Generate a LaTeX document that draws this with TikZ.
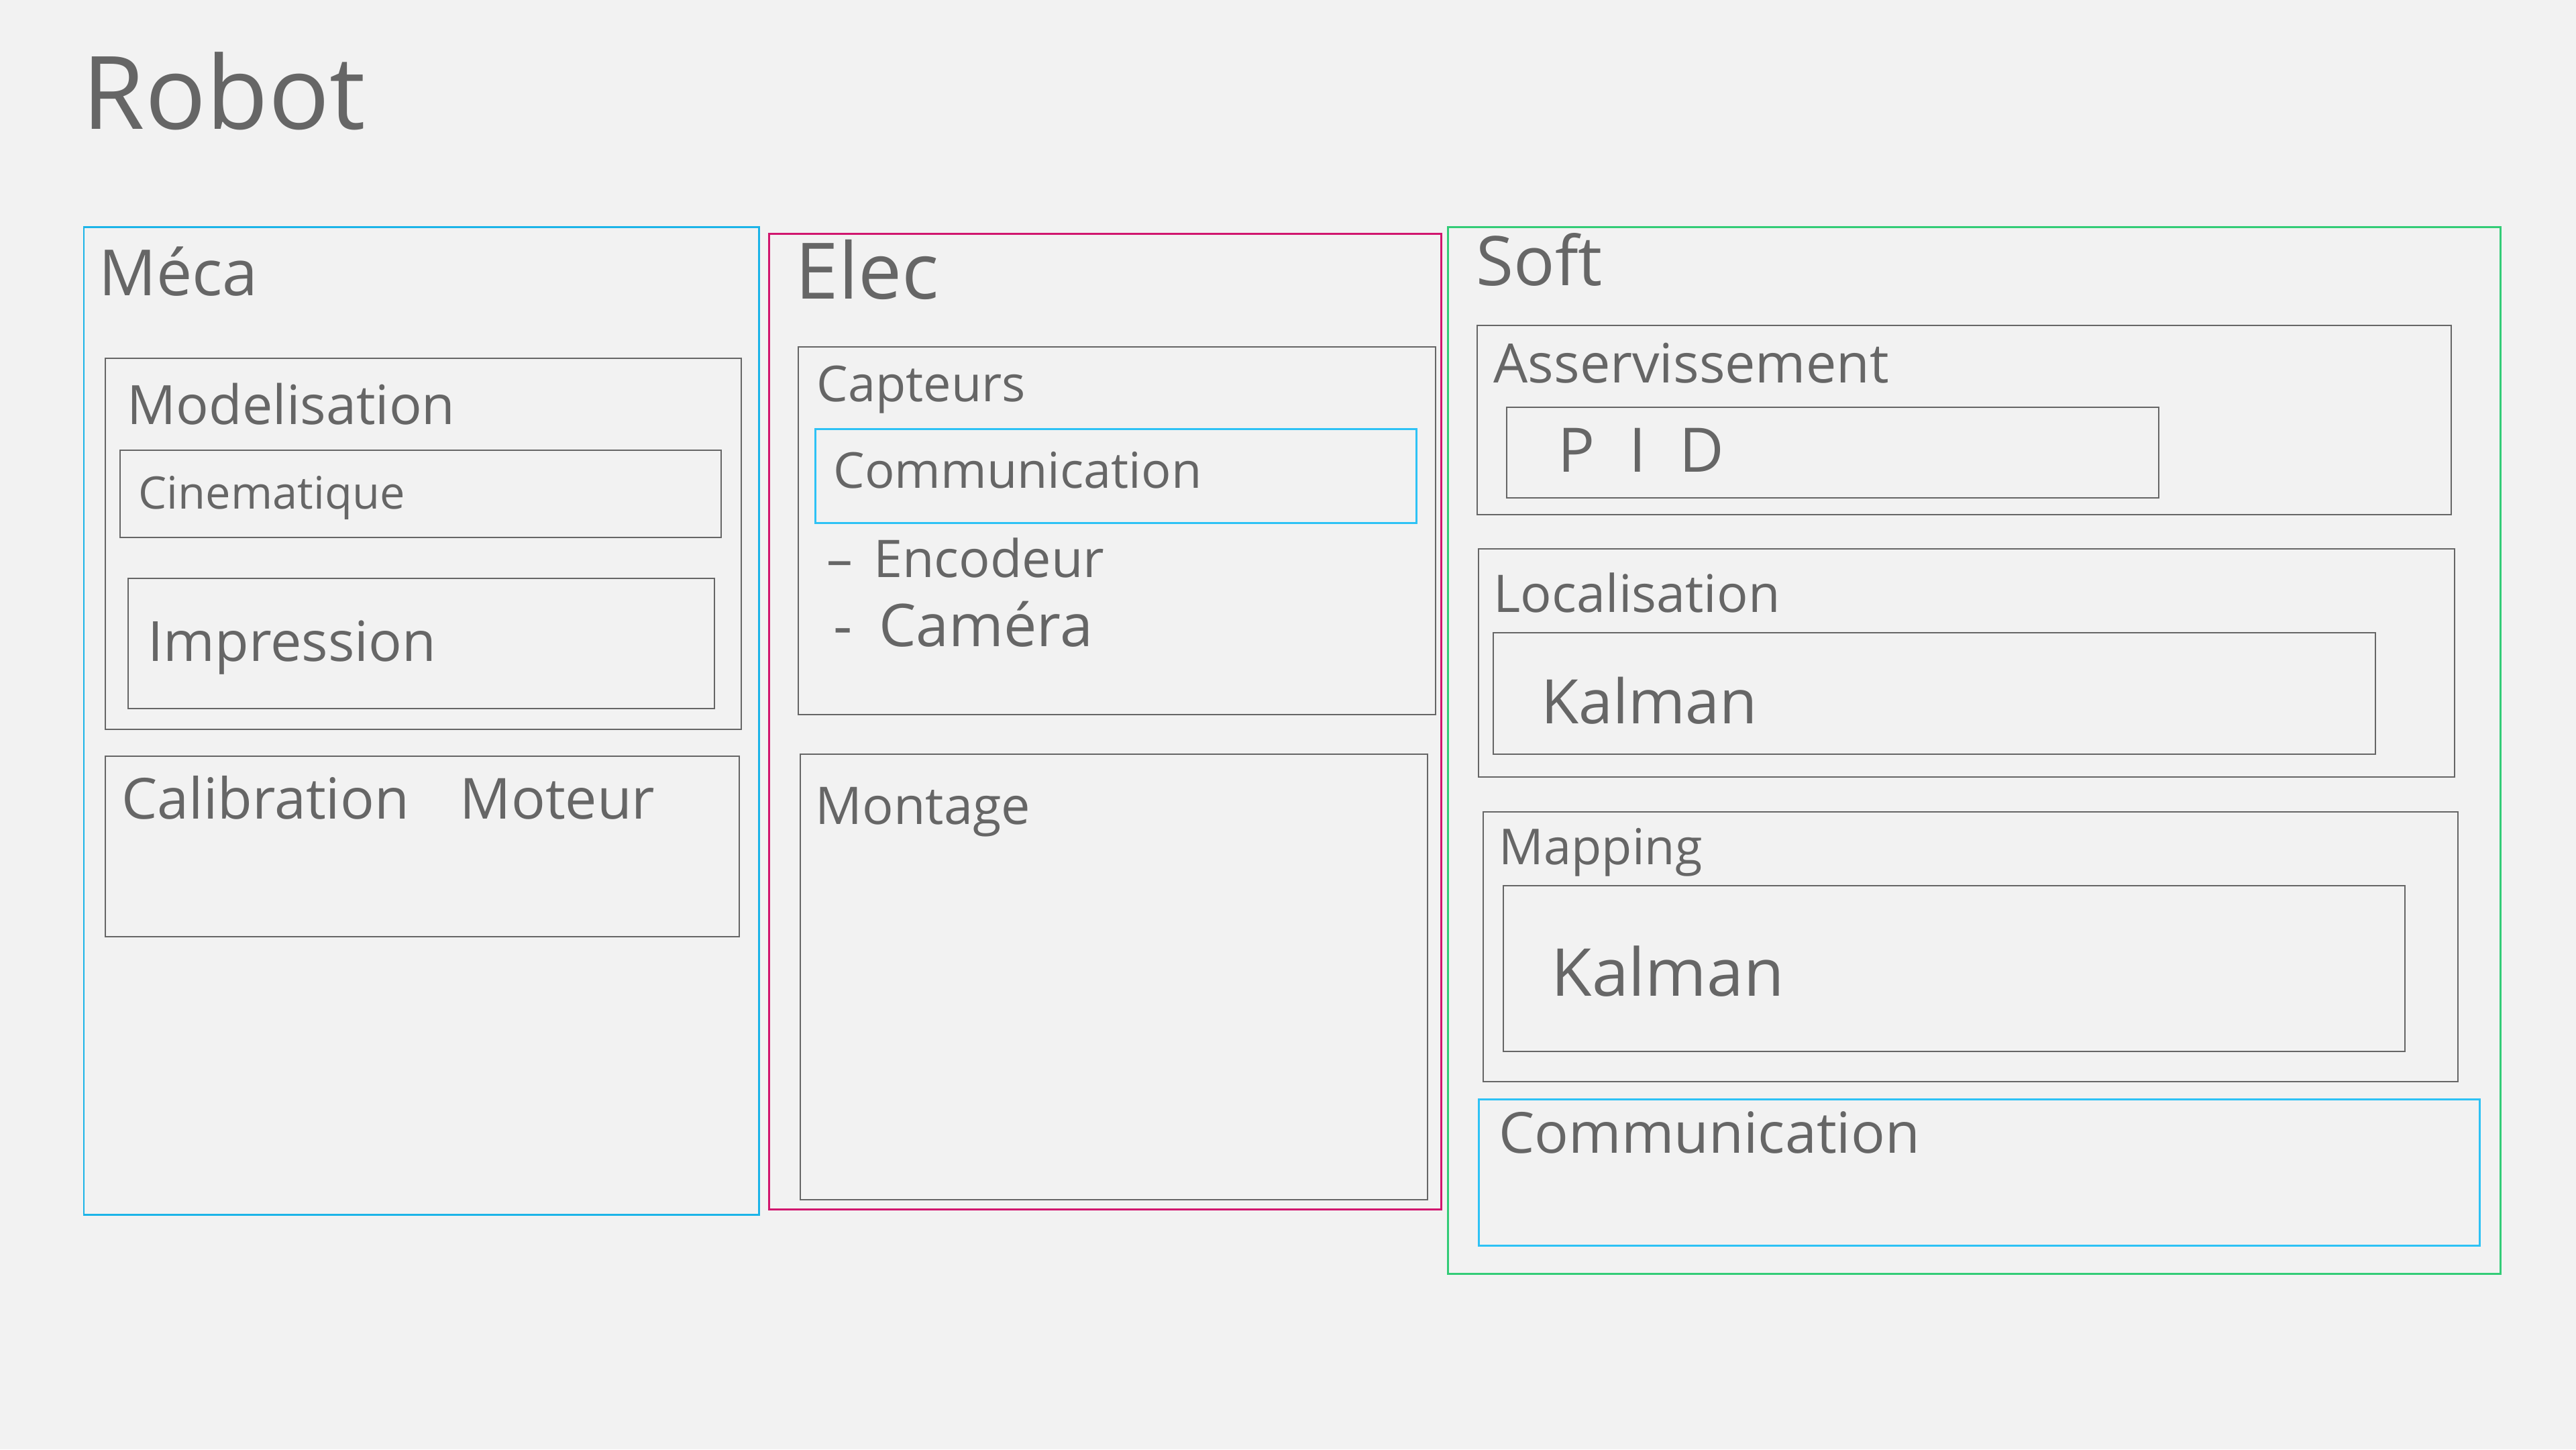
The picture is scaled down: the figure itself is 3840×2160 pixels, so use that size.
\documentclass[tikz,border=0pt]{standalone}
\usepackage{fontspec}
\setmainfont{Open Sans}
\definecolor{bg}{HTML}{F2F2F2}
\definecolor{ink}{HTML}{666666}
\definecolor{mblue}{HTML}{1CB4E8}
\definecolor{cblue}{HTML}{2EC2F5}
\definecolor{mag}{HTML}{D1166E}
\definecolor{grn}{HTML}{33CC77}
\tikzset{
  box/.style={draw=ink, line width=0.75pt},
  cbox/.style={line width=0.85pt},
  lbl/.style={anchor=base west, inner sep=0pt, text=ink},
}
\newcommand{\fs}[1]{\fontsize{#1}{#1}\selectfont}
\begin{document}
\begin{tikzpicture}[x=0.01cm, y=-0.01cm]
\fill[bg] (0,0) rectangle (3840,2160);
\useasboundingbox (0,0) rectangle (3840,2160);

% title
\node[lbl, font=\fs{43pt}] (robot) at (122,192) {Robot};

% Meca column
\draw[cbox, draw=mblue] (125,338) rectangle (1131,1810);
\node[lbl, font=\fs{27pt}] (meca) at (147,440) {Méca};
\draw[box] (157,534) rectangle (1105,1087);
\node[lbl, font=\fs{23pt}] (model) at (189,632) {Modelisation};
\draw[box] (179,671) rectangle (1075,801);
\node[lbl, font=\fs{19pt}] (cine) at (206,758) {Cinematique};
\draw[box] (191,862) rectangle (1065,1056);
\node[lbl, font=\fs{23.5pt}] (impr) at (220,985) {Impression};
\draw[box] (157,1127) rectangle (1102,1396);
\node[lbl, font=\fs{24pt}] (calib) at (181,1220) {Calibration\hspace{0.9em}Moteur};

% Elec column
\draw[cbox, draw=mag] (1146,348) rectangle (2148,1802);
\node[lbl, font=\fs{33pt}] (elec) at (1185,445) {Elec};
\draw[box] (1190,517) rectangle (2140,1065);
\node[lbl, font=\fs{21pt}] (capt) at (1217,598) {Capteurs};
\draw[cbox, draw=cblue] (1215,639) rectangle (2111,779);
\node[lbl, font=\fs{21pt}] (comm1) at (1242,727) {Communication};
\node[lbl, font=\fs{22pt}] (enc) at (1232,860) {–\hspace{0.4em}Encodeur};
\node[lbl, font=\fs{25pt}] (cam) at (1242,963) {-\hspace{0.45em}Caméra};
\draw[box] (1193,1124) rectangle (2128,1788);
\node[lbl, font=\fs{22pt}] (mont) at (1215,1228) {Montage};

% Soft column
\draw[cbox, draw=grn] (2158,338) rectangle (3727,1898);
\node[lbl, font=\fs{29pt}] (soft) at (2200,425) {Soft};
\draw[box] (2202,485) rectangle (3654,767);
\node[lbl, font=\fs{23pt}] (asserv) at (2226,570) {Asservissement};
\draw[box] (2246,607) rectangle (3218,742);
\node[lbl, font=\fs{26pt}] (pid) at (2322,703) {P\hspace{0.55em}I\hspace{0.55em}D};
\draw[box] (2204,818) rectangle (3659,1158);
\node[lbl, font=\fs{22pt}] (loc) at (2226,912) {Localisation};
\draw[box] (2226,943) rectangle (3541,1124);
\node[lbl, font=\fs{26pt}] (kal1) at (2297,1078) {Kalman};
\draw[box] (2211,1210) rectangle (3664,1612);
\node[lbl, font=\fs{21pt}] (mapp) at (2234,1288) {Mapping};
\draw[box] (2241,1320) rectangle (3585,1567);
\node[lbl, font=\fs{28pt}] (kal2) at (2312,1484) {Kalman};
\draw[cbox, draw=cblue] (2204,1638) rectangle (3696,1856);
\node[lbl, font=\fs{24pt}] (comm2) at (2234,1718) {Communication};
\end{tikzpicture}
\end{document}
